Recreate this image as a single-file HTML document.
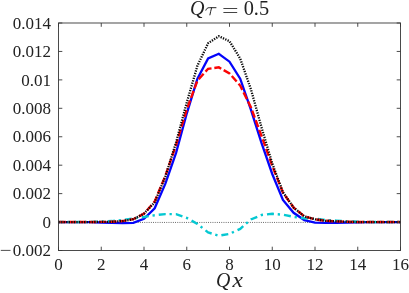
<!DOCTYPE html>
<html><head><meta charset="utf-8"><style>
html,body{margin:0;padding:0;background:#fff;}
svg{display:block;will-change:transform;}
text{font-family:"Liberation Serif",serif;fill:#222;}
</style></head><body>
<svg width="409" height="293" viewBox="0 0 409 293">
<rect width="409" height="293" fill="#fff"/>
<g fill="none" stroke-linejoin="miter">
<line x1="58.5" y1="222.45" x2="400.5" y2="222.45" stroke="#333" stroke-width="0.8" stroke-dasharray="0.9 1.3"/>
<polyline points="58.50,222.06 69.19,222.06 79.88,222.06 90.56,222.20 101.25,222.49 111.94,222.77 122.62,223.20 133.31,222.92 144.00,218.79 154.69,208.27 165.38,183.67 176.06,152.82 186.75,113.57 197.44,78.74 208.12,58.40 218.81,53.71 229.50,61.68 240.19,78.74 250.88,109.73 261.56,143.15 272.25,174.00 282.94,200.02 293.62,212.82 304.31,220.07 315.00,222.63 325.69,222.92 336.38,222.77 347.06,222.49 357.75,222.35 368.44,222.20 379.12,222.06 389.81,222.06 400.50,222.06" stroke="#0404fa" stroke-width="2.3"/>
<polyline points="58.50,222.06 69.19,222.06 79.88,222.06 90.56,221.92 101.25,221.49 111.94,221.07 122.62,219.93 133.31,218.37 144.00,216.94 154.69,215.24 165.38,214.10 176.06,214.10 186.75,217.94 197.44,223.91 208.12,232.44 218.81,235.71 229.50,233.86 240.19,228.89 250.88,219.50 261.56,214.95 272.25,213.82 282.94,214.67 293.62,216.80 304.31,218.37 315.00,218.72 325.69,219.93 336.38,220.64 347.06,221.35 357.75,221.78 368.44,221.92 379.12,222.06 389.81,222.06 400.50,222.06" stroke="#05c8d2" stroke-width="2.4" stroke-dasharray="7 3.8 2.3 4.0" stroke-dashoffset="1.9"/>
<polyline points="58.50,222.06 69.19,222.06 79.88,222.06 90.56,222.06 101.25,221.92 111.94,221.78 122.62,221.07 133.31,219.22 144.00,213.67 154.69,201.45 165.38,175.71 176.06,144.85 186.75,109.45 197.44,80.59 208.12,68.78 218.81,67.36 229.50,73.48 240.19,85.56 250.88,107.17 261.56,136.04 272.25,165.76 282.94,192.63 293.62,207.56 304.31,216.38 315.00,219.29 325.69,220.78 336.38,221.35 347.06,221.78 357.75,222.06 368.44,222.06 379.12,222.06 389.81,222.06 400.50,222.06" stroke="#fa0404" stroke-width="2.4" stroke-dasharray="7.3 2.85"/>
<polyline points="58.50,222.06 69.19,222.06 79.88,222.06 90.56,222.06 101.25,221.92 111.94,221.78 122.62,221.07 133.31,219.22 144.00,213.67 154.69,202.30 165.38,176.56 176.06,142.44 186.75,102.62 197.44,65.66 208.12,43.19 218.81,36.22 229.50,41.20 240.19,58.55 250.88,89.12 261.56,127.51 272.25,163.48 282.94,192.20 293.62,207.56 304.31,216.38 315.00,219.29 325.69,220.78 336.38,221.35 347.06,221.78 357.75,222.06 368.44,222.06 379.12,222.06 389.81,222.06 400.50,222.06" stroke="#0a0a0a" stroke-width="2.3" stroke-dasharray="1.3 1.25"/>
</g>
<g stroke="#383838" stroke-width="0.9" fill="none">
<rect x="58.5" y="23.0" width="342.0" height="227.5"/>
<line x1="58.50" y1="250.5" x2="58.50" y2="246.7"/><line x1="58.50" y1="23.0" x2="58.50" y2="26.8"/><line x1="101.25" y1="250.5" x2="101.25" y2="246.7"/><line x1="101.25" y1="23.0" x2="101.25" y2="26.8"/><line x1="144.00" y1="250.5" x2="144.00" y2="246.7"/><line x1="144.00" y1="23.0" x2="144.00" y2="26.8"/><line x1="186.75" y1="250.5" x2="186.75" y2="246.7"/><line x1="186.75" y1="23.0" x2="186.75" y2="26.8"/><line x1="229.50" y1="250.5" x2="229.50" y2="246.7"/><line x1="229.50" y1="23.0" x2="229.50" y2="26.8"/><line x1="272.25" y1="250.5" x2="272.25" y2="246.7"/><line x1="272.25" y1="23.0" x2="272.25" y2="26.8"/><line x1="315.00" y1="250.5" x2="315.00" y2="246.7"/><line x1="315.00" y1="23.0" x2="315.00" y2="26.8"/><line x1="357.75" y1="250.5" x2="357.75" y2="246.7"/><line x1="357.75" y1="23.0" x2="357.75" y2="26.8"/><line x1="400.50" y1="250.5" x2="400.50" y2="246.7"/><line x1="400.50" y1="23.0" x2="400.50" y2="26.8"/><line x1="58.5" y1="250.50" x2="62.3" y2="250.50"/><line x1="400.5" y1="250.50" x2="396.7" y2="250.50"/><line x1="58.5" y1="222.06" x2="62.3" y2="222.06"/><line x1="400.5" y1="222.06" x2="396.7" y2="222.06"/><line x1="58.5" y1="193.62" x2="62.3" y2="193.62"/><line x1="400.5" y1="193.62" x2="396.7" y2="193.62"/><line x1="58.5" y1="165.19" x2="62.3" y2="165.19"/><line x1="400.5" y1="165.19" x2="396.7" y2="165.19"/><line x1="58.5" y1="136.75" x2="62.3" y2="136.75"/><line x1="400.5" y1="136.75" x2="396.7" y2="136.75"/><line x1="58.5" y1="108.31" x2="62.3" y2="108.31"/><line x1="400.5" y1="108.31" x2="396.7" y2="108.31"/><line x1="58.5" y1="79.88" x2="62.3" y2="79.88"/><line x1="400.5" y1="79.88" x2="396.7" y2="79.88"/><line x1="58.5" y1="51.44" x2="62.3" y2="51.44"/><line x1="400.5" y1="51.44" x2="396.7" y2="51.44"/><line x1="58.5" y1="23.00" x2="62.3" y2="23.00"/><line x1="400.5" y1="23.00" x2="396.7" y2="23.00"/>
</g>
<g font-size="17"><text x="58.50" y="269.5" text-anchor="middle">0</text><text x="101.25" y="269.5" text-anchor="middle">2</text><text x="144.00" y="269.5" text-anchor="middle">4</text><text x="186.75" y="269.5" text-anchor="middle">6</text><text x="229.50" y="269.5" text-anchor="middle">8</text><text x="272.25" y="269.5" text-anchor="middle">10</text><text x="315.00" y="269.5" text-anchor="middle">12</text><text x="357.75" y="269.5" text-anchor="middle">14</text><text x="400.50" y="269.5" text-anchor="middle">16</text><text x="50.9" y="256.20" text-anchor="end">0.002</text><text x="50.9" y="227.76" text-anchor="end">0</text><text x="50.9" y="199.32" text-anchor="end">0.002</text><text x="50.9" y="170.89" text-anchor="end">0.004</text><text x="50.9" y="142.45" text-anchor="end">0.006</text><text x="50.9" y="114.01" text-anchor="end">0.008</text><text x="50.9" y="85.58" text-anchor="end">0.01</text><text x="50.9" y="57.14" text-anchor="end">0.012</text><text x="50.9" y="28.70" text-anchor="end">0.014</text><line x1="0.8" y1="250.4" x2="10.5" y2="250.4" stroke="#222" stroke-width="0.8"/></g>
<text transform="translate(190.10,14.9) scale(1.000,1)" font-size="20" font-style="italic">Q</text><text transform="translate(243.69,14.9) scale(1.017,1)" font-size="20">0.5</text><g stroke="#222" stroke-width="0.85" fill="none"><line x1="223.4" y1="8.5" x2="237.2" y2="8.5"/><line x1="223.4" y1="12.5" x2="237.2" y2="12.5"/><path d="M205.9 10.2 C206.6 8.3 207.6 7.7 209.2 7.7 L216.0 7.7 M211.6 7.8 C211.0 10.5 210.2 13.0 209.9 14.9" stroke-width="1.0" stroke-linecap="round"/></g>
<text transform="translate(216.01,287.2) scale(0.992,1)" font-size="20" font-style="italic">Q</text><text transform="translate(232.47,287.2) scale(1.174,1)" font-size="20" font-style="italic">x</text>
</svg>
</body></html>
